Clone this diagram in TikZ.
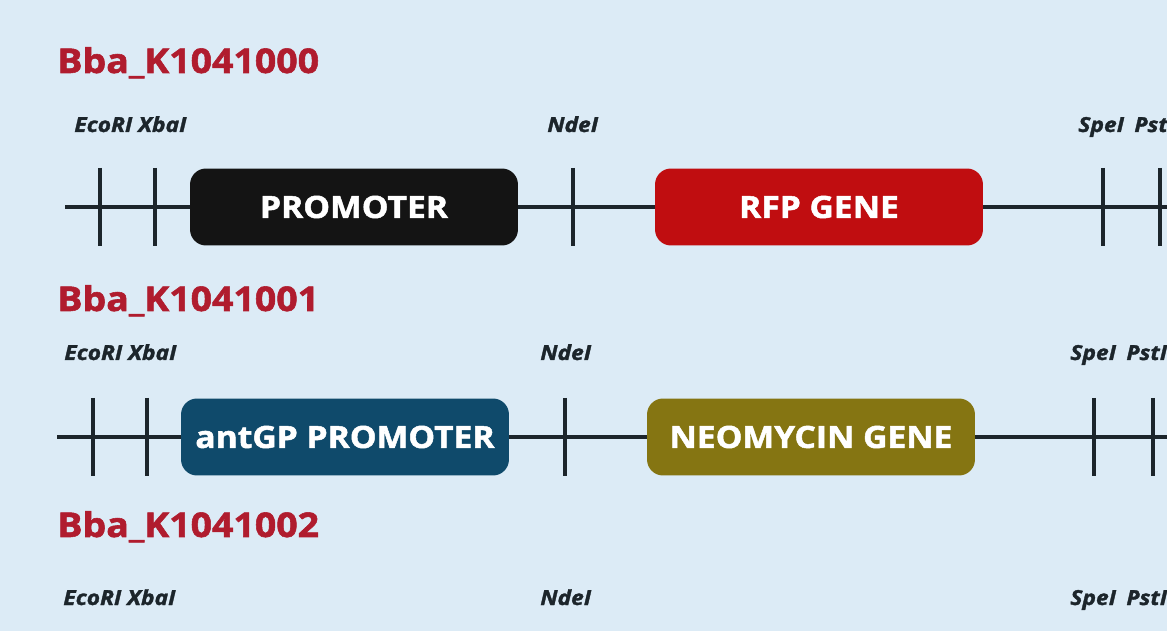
\documentclass[tikz,border=0pt]{standalone}
\usepackage{fontspec}
\setmainfont{Open Sans}
\newfontfamily\heavysans[FakeBold=1.6, FakeStretch=1.1]{Open Sans}
\usetikzlibrary{positioning}

\definecolor{bgblue}{HTML}{DCEBF6}
\definecolor{partred}{HTML}{B01C2E}
\definecolor{inkdark}{HTML}{1C252B}
\definecolor{promblack}{HTML}{141414}
\definecolor{rfpred}{HTML}{C00D10}
\definecolor{antgpblue}{HTML}{0F4A6B}
\definecolor{neoolive}{HTML}{857512}

\tikzset{
  partname/.style={anchor=base west, text=partred, inner sep=0pt,
    font=\heavysans\bfseries\fontsize{19.4}{23}\selectfont},
  sitename/.style={anchor=base west, text=inkdark, inner sep=0pt,
    font=\heavysans\bfseries\itshape\fontsize{11.8}{14}\selectfont},
  genebox/.style={rounded corners=0.32cm, minimum width=6.56cm,
    minimum height=1.54cm, inner sep=0pt, text=white,
    font=\heavysans\bfseries\fontsize{17.4}{20}\selectfont},
  backbone/.style={draw=inkdark, line width=2.3pt},
  cutsite/.style={draw=inkdark, line width=2.6pt},
}

\begin{document}
\begin{tikzpicture}[x=0.02cm, y=-0.02cm]
    % Page frame and background
    \fill[bgblue] (0,0) rectangle (1167,631);
    \useasboundingbox (0,0) rectangle (1167,631);
    \clip (0,0) rectangle (1167,631);

    % ---- Part 1: Bba_K1041000 ----
    \node[partname] (title1) at (57,73) {Bba\_K1041000};
    \node[sitename] (ex1) at (74,132) {EcoRI XbaI};
    \node[sitename] (nde1) at (547,132) {NdeI};
    \node[sitename] (sp1) at (1078,132) {SpeI\enspace PstI};

    \node[genebox, fill=promblack] (prom1) at (354,207) {PROMOTER};
    \node[genebox, fill=rfpred] (rfp1) at (819,207) {RFP GENE};

    \coordinate (start1) at (65,207);
    \coordinate (end1) at (1190,207);
    \draw[backbone] (start1) -- (prom1);
    \draw[backbone] (prom1) -- (rfp1);
    \draw[backbone] (rfp1) -- (end1);

    % restriction sites
    \coordinate (ecori1) at (100,207);
    \coordinate (xbai1) at (155,207);
    \coordinate (ndei1) at (573,207);
    \coordinate (spei1) at (1103,207);
    \coordinate (psti1) at (1160,207);
    \draw[cutsite] (ecori1) ++(0,-39) -- ++(0,78);
    \draw[cutsite] (xbai1) ++(0,-39) -- ++(0,78);
    \draw[cutsite] (ndei1) ++(0,-39) -- ++(0,78);
    \draw[cutsite] (spei1) ++(0,-39) -- ++(0,78);
    \draw[cutsite] (psti1) ++(0,-39) -- ++(0,78);

    % ---- Part 2: Bba_K1041001 ----
    \node[partname] (title2) at (57,311) {Bba\_K1041001};
    \node[sitename] (ex2) at (64,360) {EcoRI XbaI};
    \node[sitename] (nde2) at (540,360) {NdeI};
    \node[sitename] (sp2) at (1070,360) {SpeI\enspace PstI};

    \node[genebox, fill=antgpblue] (prom2) at (345,437) {antGP PROMOTER};
    \node[genebox, fill=neoolive] (neo2) at (811,437) {NEOMYCIN GENE};

    \coordinate (start2) at (57,437);
    \coordinate (end2) at (1190,437);
    \draw[backbone] (start2) -- (prom2);
    \draw[backbone] (prom2) -- (neo2);
    \draw[backbone] (neo2) -- (end2);

    % restriction sites
    \coordinate (ecori2) at (93,437);
    \coordinate (xbai2) at (147,437);
    \coordinate (ndei2) at (565,437);
    \coordinate (spei2) at (1094,437);
    \coordinate (psti2) at (1153,437);
    \draw[cutsite] (ecori2) ++(0,-39) -- ++(0,78);
    \draw[cutsite] (xbai2) ++(0,-39) -- ++(0,78);
    \draw[cutsite] (ndei2) ++(0,-39) -- ++(0,78);
    \draw[cutsite] (spei2) ++(0,-39) -- ++(0,78);
    \draw[cutsite] (psti2) ++(0,-39) -- ++(0,78);

    % ---- Part 3: Bba_K1041002 ----
    \node[partname] (title3) at (57,537) {Bba\_K1041002};
    \node[sitename] (ex3) at (63,605) {EcoRI XbaI};
    \node[sitename] (nde3) at (540,605) {NdeI};
    \node[sitename] (sp3) at (1070,605) {SpeI\enspace PstI};

\end{tikzpicture}
\end{document}
